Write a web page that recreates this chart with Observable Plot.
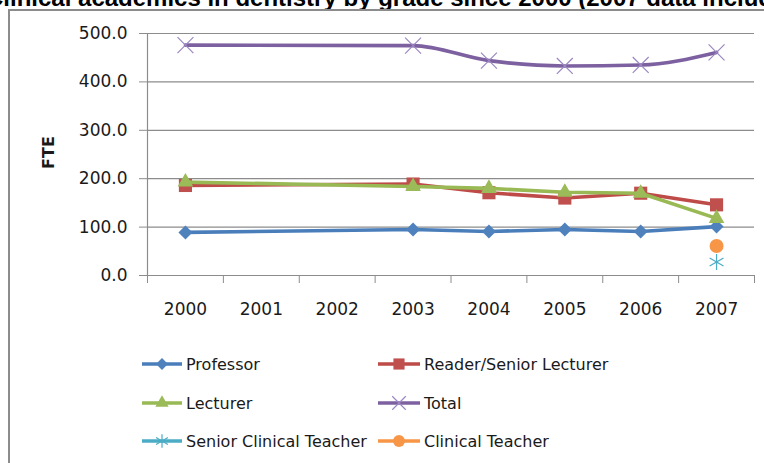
<!DOCTYPE html>
<html><head><meta charset="utf-8">
<script src="https://cdn.jsdelivr.net/npm/d3@7"></script>
<script src="https://cdn.jsdelivr.net/npm/@observablehq/plot@0.6"></script>
<style>
body{margin:0;background:#fff;}
#wrap{position:relative;width:764px;height:463px;overflow:hidden;background:#fff;}
#title{position:absolute;left:-14px;top:-14px;white-space:nowrap;font:bold 24px/1 "Liberation Sans",Arial,sans-serif;color:#000;}
#chart{position:absolute;left:0;top:0;}
#frame{position:absolute;left:8px;top:9px;width:900px;height:600px;border:2px solid #8c8c8c;box-sizing:border-box;pointer-events:none;}
#legend{position:absolute;left:0;top:340px;}
</style></head>
<body><div id="wrap"><div id="title">Clinical academics in dentistry by grade since 2000 (2007 data includes clinical teachers)</div><div id="chart"></div><div id="frame"></div><div id="legend"></div></div>
<script>
// ---- data ----
const years = [2000, 2001, 2002, 2003, 2004, 2005, 2006, 2007];
const professor = [89, null, null, 95, 91, 95, 91, 101];
const readerSeniorLecturer = [186, null, null, 189, 171, 160, 170, 146];
const lecturer = [193, null, null, 184, 180, 172, 170, 118];
const total = [476, null, null, 475, 444, 433, 435, 461];
const seniorClinicalTeacher = [null, null, null, null, null, null, null, 28];
const clinicalTeacher = [null, null, null, null, null, null, null, 61];
const yTicks = [0, 100, 200, 300, 400, 500];
const seriesNames = ["Professor", "Reader/Senior Lecturer", "Lecturer", "Total", "Senior Clinical Teacher", "Clinical Teacher"];

// ---- styles ----
const styles = [
  {values: professor, line: "#4A7EBB", fill: "#4F81BD", symbol: "diamond2", r: 6.3, curve: "linear"},
  {values: readerSeniorLecturer, line: "#BE4B48", fill: "#C0504D", symbol: "square", r: 7.4, curve: "linear"},
  {values: lecturer, line: "#98B954", fill: "#9BBB59", symbol: "triangle", r: 5.8, curve: "linear"},
  {values: total, line: "#7D60A0", stroke: "#9B86C2", symbol: "times", r: 7.3, curve: "monotone-x"},
  {values: seniorClinicalTeacher, line: "#4BACC6", stroke: "#4BACC6", symbol: "asterisk", r: 7.6, curve: "linear"},
  {values: clinicalTeacher, line: "#F79646", fill: "#F79646", symbol: "circle", r: 7, curve: "linear"}
];

const rows = (vals) => years.map((year, i) => ({year, value: vals[i]})).filter(d => d.value != null);
const bounds = [years[0] - 0.5, ...years.map(y => y + 0.5)];
const gray = "#8c8c8c";

const marks = [
  Plot.gridY(yTicks.filter(t => t > 0), {stroke: gray, strokeOpacity: 1, strokeWidth: 1.2}),
  Plot.ruleY([0], {stroke: gray, strokeWidth: 1.2}),
  Plot.ruleX([bounds[0]], {stroke: gray, strokeWidth: 1.2}),
  Plot.axisY(yTicks, {tickSize: 8, tickPadding: 12, stroke: gray, tickFormat: d => d.toFixed(1), label: null, fill: "#1a1a1a"}),
  Plot.axisX(bounds, {tickSize: 8, stroke: gray, fill: "none", label: null}),
  Plot.axisX(years, {tickSize: 0, tickPadding: 27, tickFormat: d => String(d), label: null, fill: "#1a1a1a"}),
  Plot.text(["FTE"], {frameAnchor: "left", textAnchor: "middle", dx: -99, dy: -2, rotate: -90, fontWeight: "bold", fontSize: 16, fill: "#1a1a1a"})
];
styles.forEach(s => {
  const data = rows(s.values);
  if (data.length > 1) marks.push(Plot.line(data, {x: "year", y: "value", stroke: s.line, strokeWidth: 3.6, curve: s.curve}));
  marks.push(Plot.dot(data, {x: "year", y: "value", symbol: s.symbol, r: s.r,
    fill: s.fill || "none", stroke: s.fill ? "none" : s.stroke, strokeWidth: 1.2}));
});

const chart = Plot.plot({
  width: 764, height: 330,
  marginLeft: 147, marginRight: 10, marginTop: 33, marginBottom: 55,
  x: {domain: [bounds[0], bounds[bounds.length - 1]], axis: null},
  y: {domain: [0, 500], axis: null},
  style: {fontFamily: "DejaVu Sans", fontSize: "17px", color: "#1a1a1a", background: "transparent"},
  marks
});
document.getElementById("chart").appendChild(chart);

// ---- legend ----
const symbolTypes = {diamond2: d3.symbolDiamond2, square: d3.symbolSquare, triangle: d3.symbolTriangle,
  times: d3.symbolTimes, asterisk: d3.symbolAsterisk, circle: d3.symbolCircle};
const lsvg = d3.select("#legend").append("svg").attr("width", 764).attr("height", 120)
  .style("font-family", "DejaVu Sans").style("font-size", "16px");
const colX = [142, 378], rowY = [24, 63, 101], lineW = [40, 42];
seriesNames.forEach((name, i) => {
  const s = styles[i], c = i % 2, r = Math.floor(i / 2);
  const g = lsvg.append("g").attr("transform", `translate(${colX[c]},${rowY[r]})`);
  g.append("line").attr("x1", 0).attr("x2", lineW[c]).attr("stroke", s.line).attr("stroke-width", 3.6);
  g.append("path").attr("transform", `translate(${lineW[c] / 2},0)`)
    .attr("d", d3.symbol(symbolTypes[s.symbol], Math.PI * (s.r * 0.85) ** 2)())
    .attr("fill", s.fill || "none").attr("stroke", s.fill ? "none" : s.stroke).attr("stroke-width", 1.2);
  g.append("text").attr("x", lineW[c] + 4).attr("dy", "0.35em").attr("fill", "#1a1a1a").text(name);
});
</script>
</body></html>
